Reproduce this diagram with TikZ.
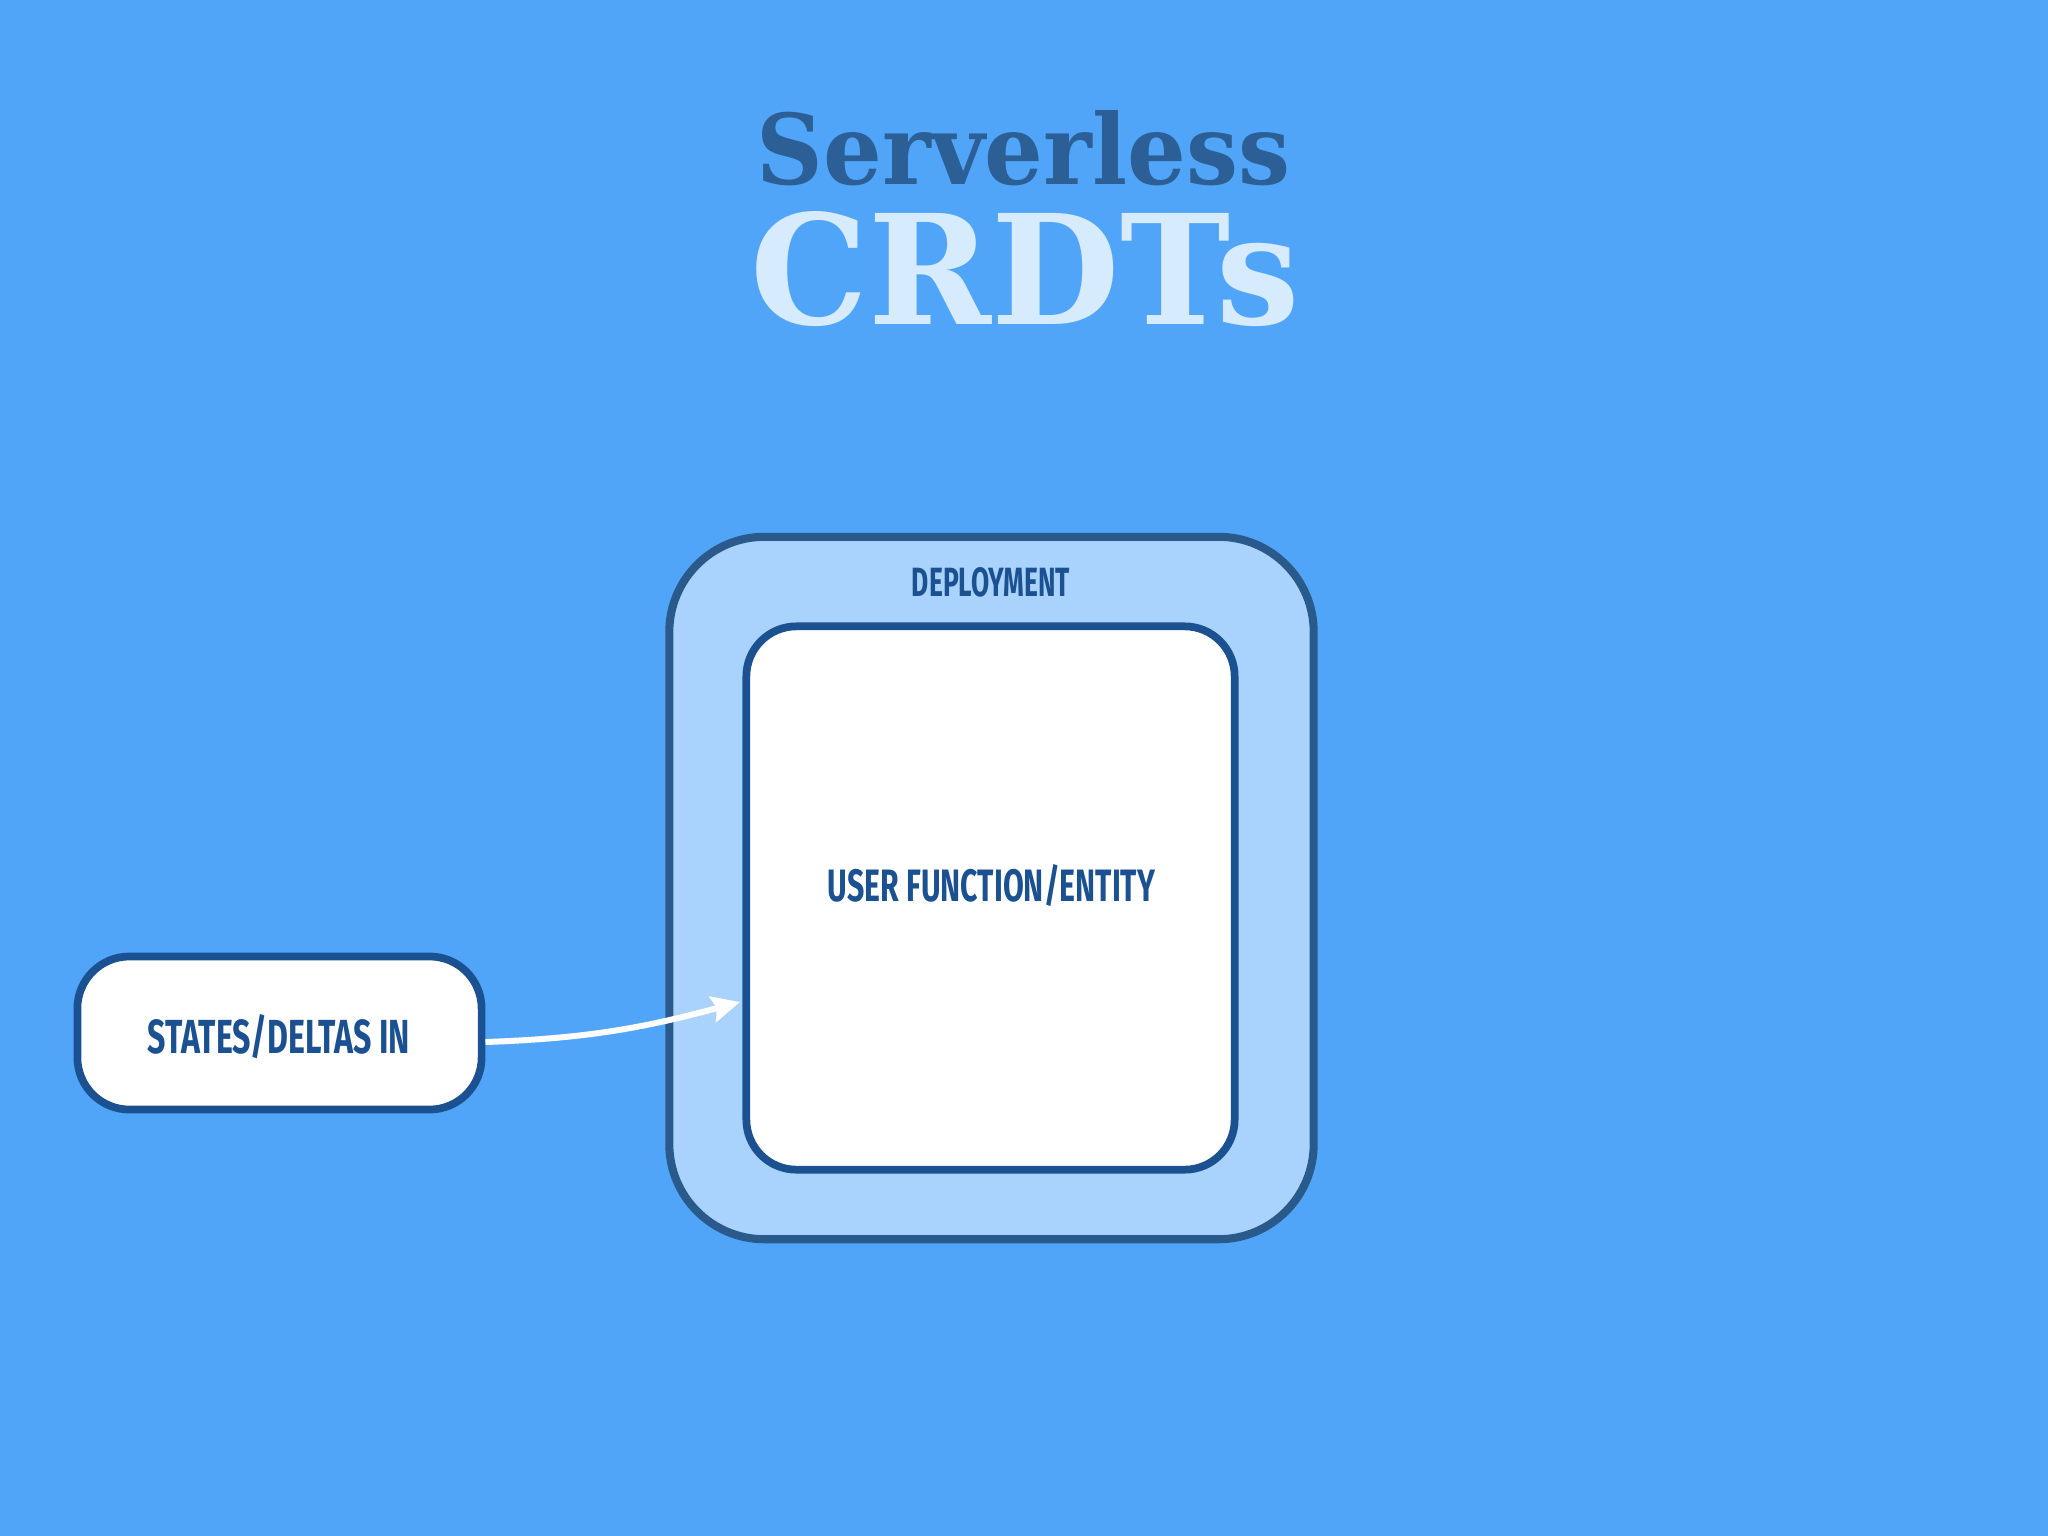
\documentclass[tikz,border=0pt]{standalone}
\usepackage{fontspec}
\usepackage{graphicx}
\newfontfamily\labelfont{Fira Sans}
\newfontfamily\titlefont{DejaVu Serif}
\usetikzlibrary{arrows.meta}
\definecolor{bgblue}{HTML}{51A5F9}
\definecolor{outerfill}{HTML}{A9D3FC}
\definecolor{outerline}{HTML}{2A5A8C}
\definecolor{darkline}{HTML}{1B5190}
\definecolor{labeltext}{HTML}{1B5191}
\definecolor{titledark}{HTML}{2C5F96}
\definecolor{titlelight}{HTML}{D6EBFD}
\tikzset{
  outerbox/.style={draw=outerline, fill=outerfill, line width=2.3pt, rounded corners=0.95cm, inner sep=0pt},
  innerbox/.style={draw=darkline, fill=white, line width=2.2pt, rounded corners=0.5cm, inner sep=0pt},
  statebox/.style={draw=darkline, fill=white, line width=2.2pt, rounded corners=0.52cm, inner sep=0pt},
  lbl/.style={text=labeltext, inner sep=0pt, anchor=base, font=\labelfont\bfseries},
  ttl/.style={inner sep=0pt, font=\titlefont\bfseries},
  conn/.style={draw=white, line width=1.7pt, -{Stealth[length=0.28cm, width=0.26cm, inset=0.04cm]}}
}
\begin{document}
\begin{tikzpicture}[x=0.01cm, y=-0.01cm]
\fill[bgblue] (0,0) rectangle (2048,1536);
\useasboundingbox (0,0) rectangle (2048,1536);

% title
\node[ttl, text=titledark] (title1) at (1023.5,148) {\resizebox{5.33cm}{0.74cm}{Serverless}};
\node[ttl, text=titlelight] (title2) at (1025.5,269.5) {\resizebox{5.49cm}{1.13cm}{CRDTs}};

% boxes
\node[outerbox, minimum width=6.44cm, minimum height=7.02cm] (deploy) at (991.5,888) {};
\node[innerbox, minimum width=4.88cm, minimum height=5.43cm] (inner) at (990.5,898) {};
\node[statebox, minimum width=4.04cm, minimum height=1.53cm] (states) at (279.5,1033) {};

% labels
\node[lbl] (deploylbl) at (991,596.5) {\resizebox{1.58cm}{0.29cm}{DEPLOYMENT}};
\node[lbl] (innerlbl) at (991.5,901.5) {\resizebox{3.27cm}{0.37cm}{USER FUNCTION/ENTITY}};
\node[lbl] (stateslbl) at (279,1053.5) {\resizebox{2.62cm}{0.39cm}{STATES/DELTAS IN}};

% connector
\coordinate (arrowend) at (740,1002);
\draw[conn] ([yshift=-0.09cm]states.east) to[out=2, in=195] (arrowend);
\end{tikzpicture}
\end{document}
